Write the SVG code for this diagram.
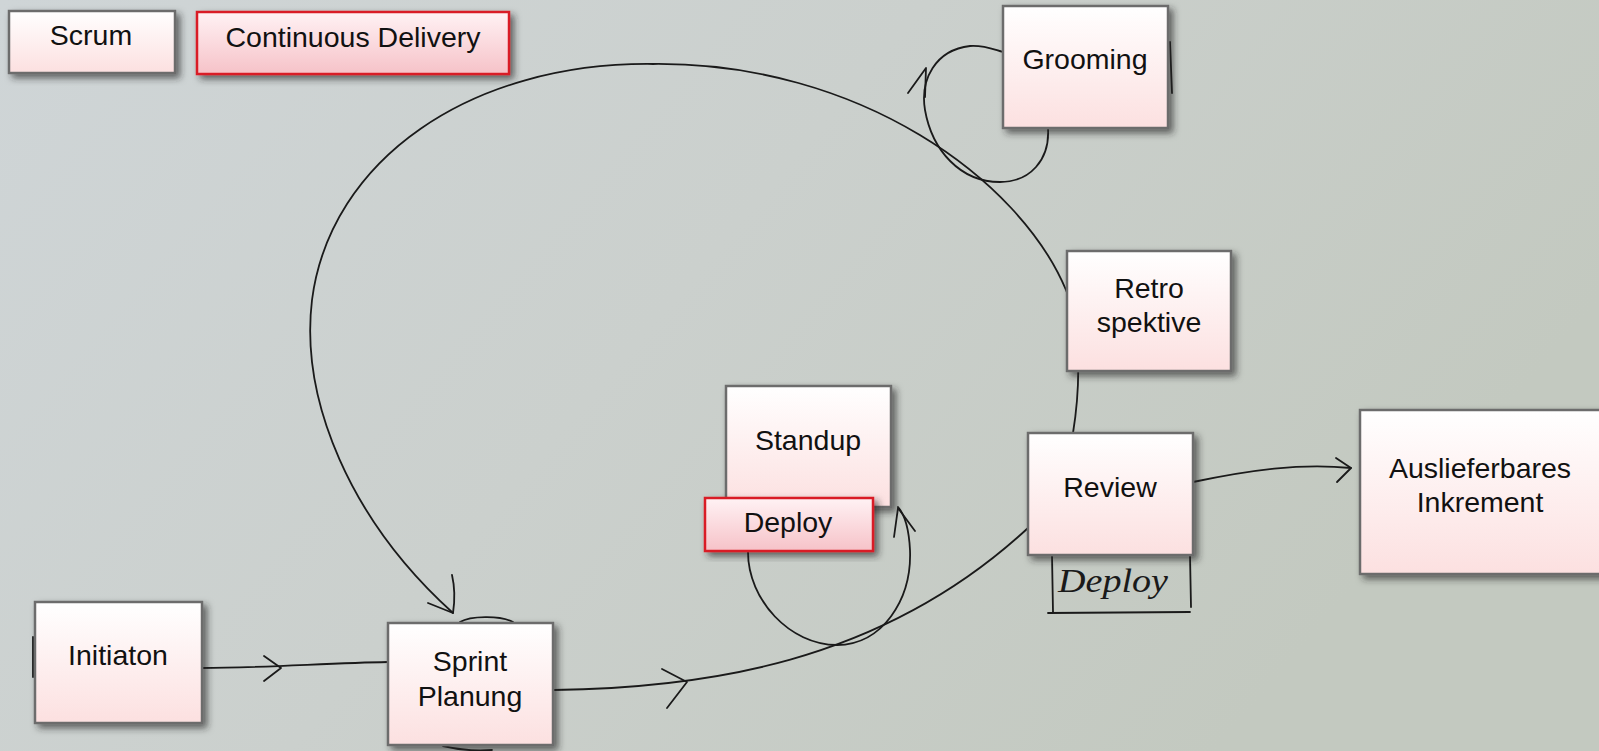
<svg xmlns="http://www.w3.org/2000/svg" width="1599" height="751" viewBox="0 0 1599 751">
  <defs>
    <linearGradient id="bg" x1="0" y1="0" x2="1" y2="0.4">
      <stop offset="0" stop-color="#cfd5d7"/>
      <stop offset="0.5" stop-color="#cbd0cd"/>
      <stop offset="1" stop-color="#c3c9c0"/>
    </linearGradient>
    <linearGradient id="fillPlain" x1="0" y1="0" x2="0" y2="1">
      <stop offset="0" stop-color="#ffffff"/>
      <stop offset="1" stop-color="#fce0e0"/>
    </linearGradient>
    <linearGradient id="fillRed" x1="0" y1="0" x2="0" y2="1">
      <stop offset="0" stop-color="#fff2f4"/>
      <stop offset="1" stop-color="#f6c2c8"/>
    </linearGradient>
    <filter id="shadow" x="-20%" y="-20%" width="140%" height="140%">
      <feDropShadow dx="4" dy="4" stdDeviation="3.5" flood-color="#222" flood-opacity="0.65"/>
    </filter>
  </defs>
  <style>
    .box { fill: url(#fillPlain); stroke: #6c6c6c; stroke-width: 2.5; filter: url(#shadow); }
    .box.red { fill: url(#fillRed); stroke: #d91f26; }
    .label { font-family: "Liberation Sans", Arial, sans-serif; font-size: 28.5px; fill: #111; text-anchor: middle; }
    .ink { fill: none; stroke: #1a1a1a; stroke-width: 1.8; stroke-linecap: round; stroke-linejoin: round; }
    .scribble { font-family: "Liberation Serif", serif; font-style: italic; font-size: 34px; fill: #1a1a1a; }
  </style>

  <rect width="1599" height="751" fill="url(#bg)"/>

  <!-- hand-drawn connectors -->
  <g id="connectors">
    <!-- Initiaton to Sprint Planung -->
    <path class="ink" d="M 202 668 C 260 668, 330 663, 388 662"/>
    <path class="ink" d="M 264 656 L 281 668 L 264 681"/>
    <path class="ink" d="M 33 637 L 33 677"/>

    <!-- Sprint Planung to Review -->
    <path class="ink" d="M 554 690 C 700 688, 880 665, 1028 528"/>
    <path class="ink" d="M 662 669 L 687 682 L 667 708"/>

    <!-- Review to Auslieferbares Inkrement -->
    <path class="ink" d="M 1193 482 C 1250 470, 1300 463, 1351 468"/>
    <path class="ink" d="M 1336 458 L 1351 468 L 1337 482"/>

    <!-- big sprint loop: Review back to Sprint Planung -->
    <path class="ink" d="M 1073 433 C 1080 390, 1082 330, 1066 290 C 1020 180, 860 62, 653 64 C 470 62, 330 160, 312 300 C 300 400, 350 520, 453 613"/>
    <path class="ink" d="M 428 603 L 453 613 C 455 600, 455 588, 452 575"/>
    <!-- arcs around Sprint Planung -->
    <path class="ink" d="M 460 622 C 470 616, 500 615, 513 622"/>
    <path class="ink" d="M 443 746 C 460 750, 480 751, 492 750"/>

    <!-- Grooming loop -->
    <path class="ink" d="M 1048 128 C 1050 160, 1030 182, 1000 182 C 960 182, 932 150, 925 110 C 920 80, 935 50, 970 46 C 985 45, 995 50, 1003 52"/>
    <path class="ink" d="M 908 93 L 926 68 L 925 97"/>
    <path class="ink" d="M 1170 42 L 1172 93"/>

    <!-- Standup / Deploy loop -->
    <path class="ink" d="M 748 552 C 748 600, 790 645, 837 645 C 882 645, 912 600, 910 550 C 909 530, 905 515, 898 507"/>
    <path class="ink" d="M 894 537 L 898 508 L 915 531"/>

    <!-- handwritten note under Review -->
    <path class="ink" d="M 1052 555 L 1053 612 M 1048 613 L 1190 612 M 1190 555 L 1191 607"/>
    <text class="scribble" x="1058" y="592" textLength="110" lengthAdjust="spacingAndGlyphs">Deploy</text>
  </g>

  <!-- nodes -->
  <g id="node-scrum">
    <rect class="box" x="9" y="11" width="166" height="62"/>
    <text class="label" x="91" y="45">Scrum</text>
  </g>
  <g id="node-continuous-delivery">
    <rect class="box red" x="197" y="12" width="312" height="62"/>
    <text class="label" x="353" y="47">Continuous Delivery</text>
  </g>
  <g id="node-grooming">
    <rect class="box" x="1003" y="6" width="165" height="122"/>
    <text class="label" x="1085" y="69">Grooming</text>
  </g>
  <g id="node-retrospektive">
    <rect class="box" x="1067" y="251" width="164" height="120"/>
    <text class="label" x="1149" y="298">Retro</text>
    <text class="label" x="1149" y="332">spektive</text>
  </g>
  <g id="node-standup">
    <rect class="box" x="726" y="386" width="165" height="121"/>
    <text class="label" x="808" y="450">Standup</text>
  </g>
  <g id="node-deploy">
    <rect class="box red" x="705" y="498" width="168" height="53"/>
    <text class="label" x="788" y="532">Deploy</text>
  </g>
  <g id="node-review">
    <rect class="box" x="1028" y="433" width="165" height="122"/>
    <text class="label" x="1110" y="497">Review</text>
  </g>
  <g id="node-inkrement">
    <rect class="box" x="1360" y="410" width="245" height="164"/>
    <text class="label" x="1480" y="478">Auslieferbares</text>
    <text class="label" x="1480" y="512">Inkrement</text>
  </g>
  <g id="node-initiaton">
    <rect class="box" x="35" y="602" width="167" height="121"/>
    <text class="label" x="118" y="665">Initiaton</text>
  </g>
  <g id="node-sprint-planung">
    <rect class="box" x="388" y="623" width="165" height="122"/>
    <text class="label" x="470" y="671">Sprint</text>
    <text class="label" x="470" y="706">Planung</text>
  </g>
</svg>
